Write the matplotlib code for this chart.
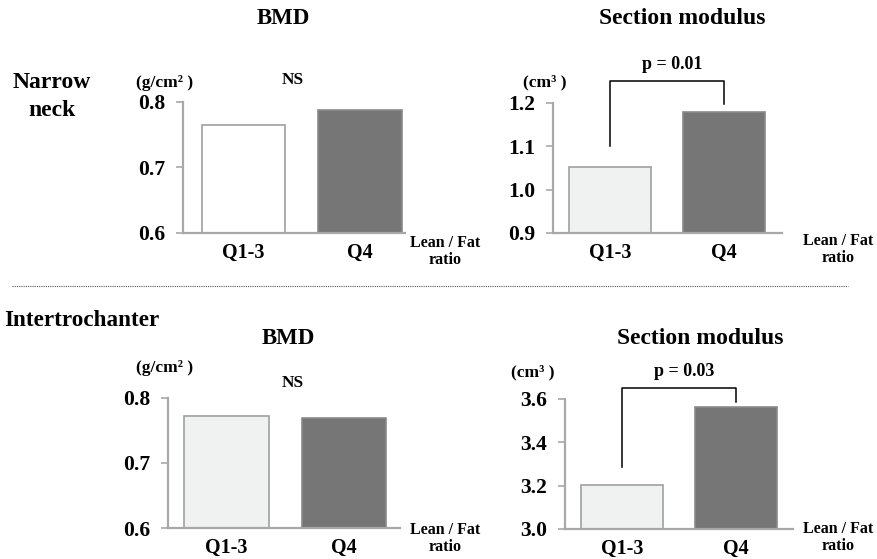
import matplotlib
matplotlib.use("Agg")
import matplotlib.pyplot as plt

# Data.
groups = ["Q1-3", "Q4"]
neck_bmd = [0.765, 0.788]
neck_sm = [1.052, 1.179]
inter_bmd = [0.772, 0.769]
inter_sm = [3.203, 3.563]

neck_bmd_ticks = [0.6, 0.7, 0.8]
neck_sm_ticks = [0.9, 1.0, 1.1, 1.2]
inter_bmd_ticks = [0.6, 0.7, 0.8]
inter_sm_ticks = [3.0, 3.2, 3.4, 3.6]

W, H = 877, 559
plt.rcParams["font.family"] = ["Liberation Serif", "DejaVu Serif"]
plt.rcParams["font.weight"] = "bold"

fig = plt.figure(figsize=(W / 100, H / 100), dpi=100)

SPINE = "#a8a8a8"
DARK = "#767676"


def px(x, y):
    # Convert pixel coordinates (origin top left) to figure fractions.
    return x / W, 1 - y / H


def make_axes(left, right, top, bottom, xlim, values, ticks, fills, fmt):
    ax = fig.add_axes([left / W, 1 - bottom / H, (right - left) / W,
                       (bottom - top) / H])
    ax.bar([0, 1], values, width=0.72, color=fills,
           edgecolor=["#a0a0a0", "#8a8a8a"], linewidth=1.2, zorder=2)
    ax.set_xlim(*xlim)
    ax.set_ylim(ticks[0], ticks[-1])
    ax.set_yticks(ticks)
    ax.set_yticklabels([fmt.format(t) for t in ticks])
    ax.set_xticks([0, 1])
    ax.set_xticklabels(groups)
    for s in ["top", "right"]:
        ax.spines[s].set_visible(False)
    for s in ["left", "bottom"]:
        ax.spines[s].set_color(SPINE)
        ax.spines[s].set_linewidth(1.6)
    ax.tick_params(axis="y", length=5, width=1.2, color=SPINE, pad=8,
                   labelsize=15.5)
    ax.tick_params(axis="x", length=0, pad=7, labelsize=14.5)
    for lab in ax.get_xticklabels() + ax.get_yticklabels():
        lab.set_fontweight("bold")
    return ax


def bracket(ax, y_left, y_right, y_top, label):
    ax.plot([0, 0, 1, 1], [y_left, y_top, y_top, y_right], color="black",
            linewidth=1.1, clip_on=False)
    ax.annotate(label, (0.5, y_top), xytext=(4, 6),
                textcoords="offset points", ha="center", va="bottom",
                fontsize=13, fontweight="bold", annotation_clip=False)


def text(x, y, s, size, ha="center"):
    fig.text(*px(x, y), s, ha=ha, va="center", fontsize=size,
             fontweight="bold")


# Narrow neck, BMD
ax1 = make_axes(183, 405, 102, 233, (-0.52, 1.39), neck_bmd, neck_bmd_ticks,
                ["#ffffff", DARK], "{:.1f}")
# Narrow neck, section modulus
ax2 = make_axes(553, 782, 103, 233, (-0.5, 1.51), neck_sm, neck_sm_ticks,
                ["#f0f1f1", DARK], "{:.1f}")
bracket(ax2, 1.10, 1.198, 1.251, "p = 0.01")
# Intertrochanter, BMD
ax3 = make_axes(168, 400, 398, 528, (-0.5, 1.48), inter_bmd, inter_bmd_ticks,
                ["#f0f1f1", DARK], "{:.1f}")
# Intertrochanter, section modulus
ax4 = make_axes(565, 793, 399, 529, (-0.5, 1.5), inter_sm, inter_sm_ticks,
                ["#f0f1f1", DARK], "{:.1f}")
bracket(ax4, 3.286, 3.586, 3.651, "p = 0.03")

# Headings and labels.
text(283, 18, "BMD", 16.5)
text(682, 18, "Section modulus", 17)
text(52, 83, "Narrow", 17)
text(52, 110, "neck", 17)
text(165, 83, "(g/cm² )", 12.5)
text(293, 80, "NS", 12.5)
text(545, 82, "(cm³ )", 12.5)

text(4, 320, "Intertrochanter", 16.7, ha="left")
text(288, 338, "BMD", 16.5)
text(700, 338, "Section modulus", 17)
text(165, 368, "(g/cm² )", 12.5)
text(293, 383, "NS", 12.5)
text(533, 372, "(cm³ )", 12.5)

for x, y in [(445, 243), (838, 241), (445, 530), (838, 529)]:
    text(x, y, "Lean / Fat", 11.5)
    text(x, y + 17, "ratio", 11.5)

# Dotted separator between the two regions.
fig.add_artist(plt.Line2D([12 / W, 848 / W], [1 - 286 / H, 1 - 286 / H],
                          color="#555555", linewidth=0.8,
                          linestyle=(0, (1, 1))))

fig.savefig("out.png", dpi=100)
